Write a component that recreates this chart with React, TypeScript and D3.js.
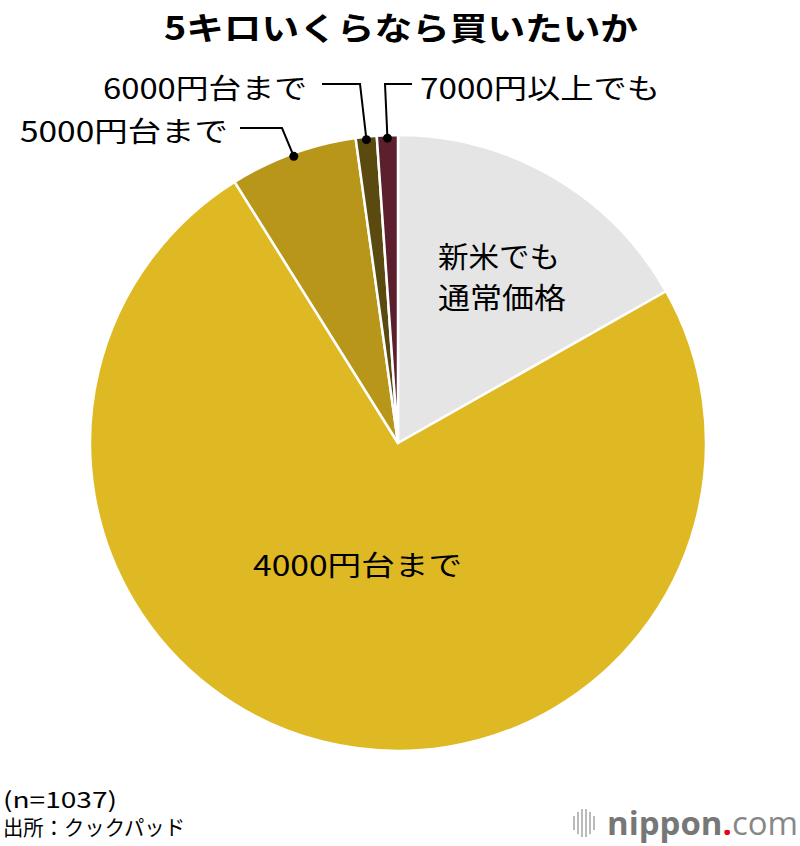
import React from "react";
import * as d3 from "d3";

const categories = ["新米でも通常価格", "4000円台まで", "5000円台まで", "6000円台まで", "7000円以上でも"];
const values = [16.8, 74.3, 6.7, 1.1, 1.1];
const colors = ["#e5e5e5", "#dfb923", "#b8961a", "#5a4a0f", "#5b1f2d"];

const W = 800, H = 846;
const cx = 398, cy = 443, R = 308;

export default function App() {
  const pie = d3.pie<number>().sort(null).value((d) => d)(values);
  const arc = d3.arc<d3.PieArcDatum<number>>().innerRadius(0).outerRadius(R);
  const font = "'Noto Sans CJK JP', 'Noto Sans', sans-serif";
  const pt = (a: number, r: number) => [cx + r * Math.sin(a), cy - r * Math.cos(a)];
  const mid = (i: number) => (pie[i].startAngle + pie[i].endAngle) / 2;
  const p5 = pt(mid(2), R - 3);
  const p6 = pt(mid(3), R - 3);
  const p7 = pt(mid(4), R - 3);
  const adj = "spacingAndGlyphs";
  return (
    <svg width={W} height={H} style={{ position: "absolute", left: 0, top: 0, background: "#fff" }} fontFamily={font}>
      <text x={164} y={40} fontSize={32} fontWeight="bold" fill="#000" textLength={474} lengthAdjust={adj}>5キロいくらなら買いたいか</text>
      <g>
        {pie.map((d, i) => (
          <path key={i} d={arc(d) || ""} transform={`translate(${cx},${cy})`} fill={colors[i]} stroke="#fff" strokeWidth={2.5} strokeLinejoin="round" />
        ))}
      </g>
      <text x={438} y={268} fontSize={29} fill="#000" textLength={122} lengthAdjust={adj}>新米でも</text>
      <text x={438} y={309} fontSize={29} fill="#000" textLength={128} lengthAdjust={adj}>通常価格</text>
      <text x={253} y={576} fontSize={28} fill="#000" textLength={209} lengthAdjust={adj}>{categories[1]}</text>
      {/* leaders */}
      <g stroke="#000" strokeWidth={2} fill="none">
        <polyline points={`240,128 282,128 ${p5[0]},${p5[1]}`} />
        <polyline points={`322,84 360,84 ${p6[0]},${p6[1]}`} />
        <polyline points={`412,84 385,84 ${p7[0]},${p7[1]}`} />
      </g>
      <circle cx={p5[0]} cy={p5[1]} r={4.5} fill="#000" />
      <circle cx={p6[0]} cy={p6[1]} r={4.5} fill="#000" />
      <circle cx={p7[0]} cy={p7[1]} r={4.5} fill="#000" />
      <text x={20} y={142} fontSize={28} fill="#000" textLength={208} lengthAdjust={adj}>{categories[2]}</text>
      <text x={103} y={99} fontSize={28} fill="#000" textLength={204} lengthAdjust={adj}>{categories[3]}</text>
      <text x={420} y={99} fontSize={28} fill="#000" textLength={240} lengthAdjust={adj}>{categories[4]}</text>
      <text x={3} y={808} fontSize={22} fill="#000" textLength={114} lengthAdjust={adj}>(n=1037)</text>
      <text x={3} y={835} fontSize={21} fill="#000" textLength={182} lengthAdjust={adj}>出所：クックパッド</text>
      <g>
        {[0, 4, 8, 12, 16, 20].map((dx, i) => (
          <rect key={i} x={573 + dx} y={[816, 812, 809, 809, 812, 816][i]} width={2} height={[14, 22, 28, 28, 22, 14][i]} fill="#bbb" />
        ))}
        <text x={607} y={835} fontSize={33} fontFamily="'Open Sans', sans-serif" fill="#777" textLength={191} lengthAdjust={adj}>
          <tspan fontWeight="bold">nippon</tspan>
          <tspan fill="#e50012" fontWeight="bold">.</tspan>
          <tspan fill="#888">com</tspan>
        </text>
      </g>
    </svg>
  );
}
